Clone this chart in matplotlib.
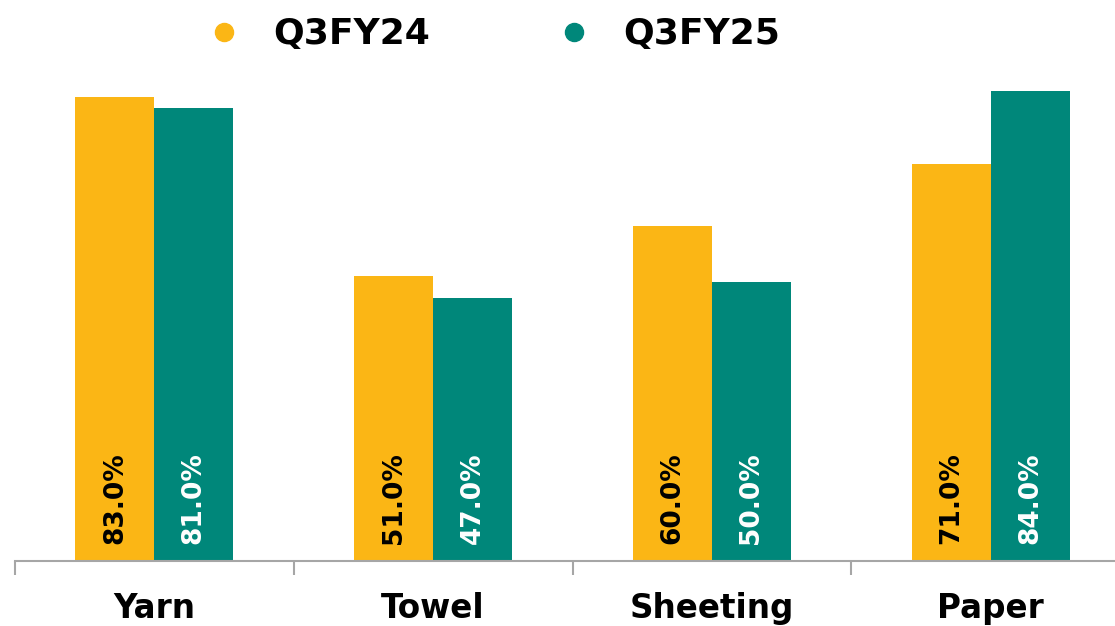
import numpy as np
import matplotlib.pyplot as plt
from matplotlib.lines import Line2D

# Capacity utilisation by segment
categories = ["Yarn", "Towel", "Sheeting", "Paper"]
q3fy24 = [83.0, 51.0, 60.0, 71.0]
q3fy25 = [81.0, 47.0, 50.0, 84.0]
series_names = ["Q3FY24", "Q3FY25"]

yellow = "#FBB615"
teal = "#00877A"

fig = plt.figure(figsize=(11.15, 6.26), dpi=100)
ax = fig.add_axes([15 / 1115, 65 / 626, 1.0, 559 / 626])

x = np.arange(len(categories))
w = 0.283
b1 = ax.bar(x - w / 2, q3fy24, width=w, color=yellow)
b2 = ax.bar(x + w / 2, q3fy25, width=w, color=teal)

for xi, v in zip(x - w / 2, q3fy24):
    ax.text(xi, 3, f"{v:.1f}%", rotation=90, ha="center", va="bottom",
            fontsize=19, fontweight="bold", color="black")
for xi, v in zip(x + w / 2, q3fy25):
    ax.text(xi, 3, f"{v:.1f}%", rotation=90, ha="center", va="bottom",
            fontsize=19, fontweight="bold", color="white")

ax.set_xlim(-0.5, len(categories) - 0.5)
ax.set_ylim(0, 100)

for s in ["top", "right", "left"]:
    ax.spines[s].set_visible(False)
ax.spines["bottom"].set_color("#A6A6A6")
ax.spines["bottom"].set_linewidth(1.5)
ax.set_yticks([])

ax.set_xticks(x)
ax.set_xticklabels(categories, fontsize=23.5, fontweight="bold")
ax.tick_params(axis="x", which="major", length=0, pad=22)
ax.set_xticks(np.arange(-0.5, len(categories)), minor=True)
ax.tick_params(axis="x", which="minor", length=10, width=1.5, color="#A6A6A6")

handles = [Line2D([], [], marker="o", linestyle="none", markersize=13,
                  markerfacecolor=c, markeredgecolor=c) for c in (yellow, teal)]
fig.legend(handles, series_names, loc="center", bbox_to_anchor=(0.434, 0.945),
           ncol=2, frameon=False, prop={"size": 26, "weight": "bold"},
           handletextpad=0.35, columnspacing=3.0)

fig.savefig("out.png", dpi=100)
